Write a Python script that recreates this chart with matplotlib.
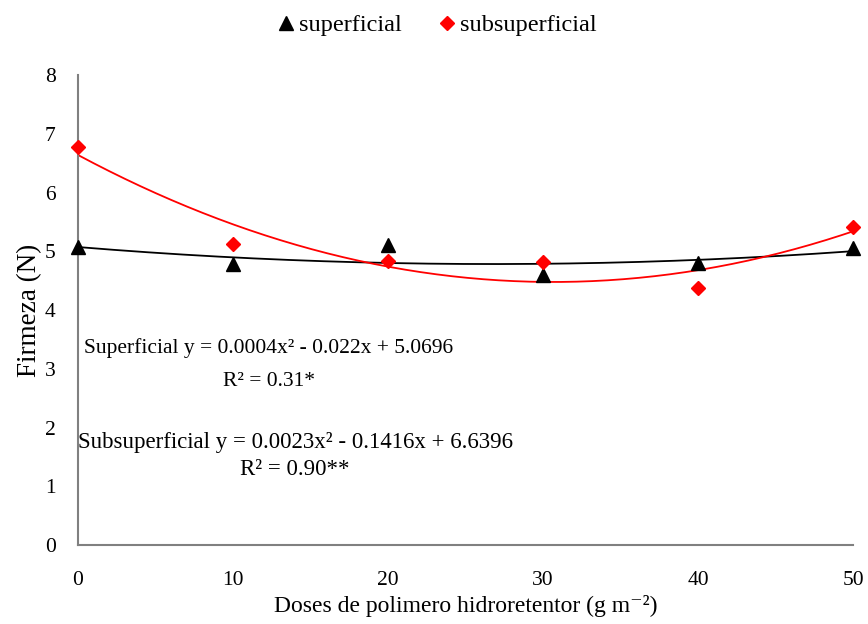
import numpy as np
import matplotlib.pyplot as plt
import matplotlib as mpl

mpl.rcParams.update({"font.family": ["Liberation Serif", "DejaVu Serif"]})

# ---------------------------------------------------------------------------
# Data
# ---------------------------------------------------------------------------
doses = [0, 10, 20, 30, 40, 50]
superficial = [5.07, 4.78, 5.10, 4.60, 4.80, 5.06]
subsuperficial = [6.78, 5.12, 4.83, 4.81, 4.38, 5.41]

eq_sup = "Superficial y = 0.0004x² - 0.022x + 5.0696"
r2_sup = "R² = 0.31*"
eq_sub = "Subsuperficial y = 0.0023x² - 0.1416x + 6.6396"
r2_sub = "R² = 0.90**"

# quadratic trend lines
xx = np.linspace(0, 50, 200)
fit_sup = np.polyval(np.polyfit(doses, superficial, 2), xx)
fit_sub = np.polyval(np.polyfit(doses, subsuperficial, 2), xx)

# ---------------------------------------------------------------------------
# Plot
# ---------------------------------------------------------------------------
fig = plt.figure(figsize=(8.68, 6.24), dpi=100)
ax = fig.add_axes([0.0899, 0.1266, 0.893, 0.7532])

ax.plot(xx, fit_sup, color="black", lw=1.3, zorder=2)
ax.plot(xx, fit_sub, color="red", lw=1.3, zorder=2)
ax.plot(doses, superficial, ls="none", marker="^", ms=10, color="black",
        label="superficial", zorder=3, clip_on=False)
ax.plot(doses, subsuperficial, ls="none", marker="D", ms=7.5, color="red",
        label="subsuperficial", zorder=3, clip_on=False)

ax.set_xlim(0, 50)
ax.set_ylim(0, 8)
ax.set_xticks(range(0, 51, 10))
ax.set_yticks(range(0, 9))
ax.tick_params(length=0, labelsize=15.5)
ax.tick_params(axis="x", pad=19)
ax.tick_params(axis="y", pad=16)
for s in ["top", "right"]:
    ax.spines[s].set_visible(False)
for s in ["left", "bottom"]:
    ax.spines[s].set_color("#808080")
    ax.spines[s].set_linewidth(1.5)

ax.set_xlabel("Doses de polimero hidroretentor (g m⁻²)", fontsize=17, labelpad=3)
ax.set_ylabel("Firmeza (N)", fontsize=19.5, labelpad=2)

ax.text(12.3, 3.36, eq_sup, ha="center", va="center", fontsize=15.5)
ax.text(12.3, 2.78, r2_sup, ha="center", va="center", fontsize=15.5)
ax.text(14.0, 1.74, eq_sub, ha="center", va="center", fontsize=16.5)
ax.text(14.0, 1.28, r2_sub, ha="center", va="center", fontsize=16.5)

ax.legend(loc="center", bbox_to_anchor=(0.46, 1.106), ncol=2, frameon=False,
          fontsize=17.5, handletextpad=0.0, columnspacing=1.3, handlelength=1.1)

fig.savefig("out.png", dpi=100)
plt.close(fig)
